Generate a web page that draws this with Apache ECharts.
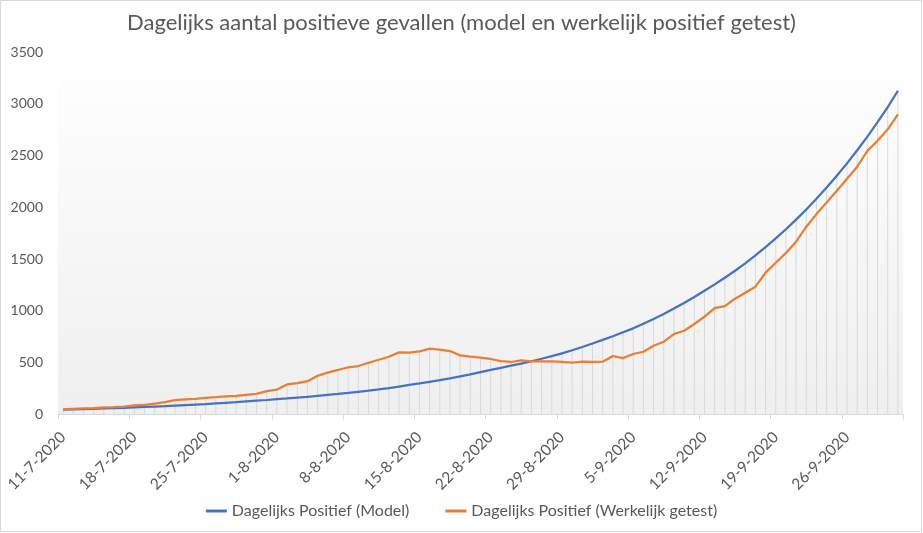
<!DOCTYPE html>
<html>
<head>
<meta charset="utf-8">
<script src="https://cdn.jsdelivr.net/npm/echarts@6/dist/echarts.min.js"></script>
<style>
html,body{margin:0;padding:0;background:#fff;}
#c{width:923px;height:533px;}
</style>
</head>
<body>
<div id="c"></div>
<script>
const categories = [
'11-7-2020','12-7-2020','13-7-2020','14-7-2020','15-7-2020','16-7-2020','17-7-2020',
'18-7-2020','19-7-2020','20-7-2020','21-7-2020','22-7-2020','23-7-2020','24-7-2020',
'25-7-2020','26-7-2020','27-7-2020','28-7-2020','29-7-2020','30-7-2020','31-7-2020',
'1-8-2020','2-8-2020','3-8-2020','4-8-2020','5-8-2020','6-8-2020','7-8-2020',
'8-8-2020','9-8-2020','10-8-2020','11-8-2020','12-8-2020','13-8-2020','14-8-2020',
'15-8-2020','16-8-2020','17-8-2020','18-8-2020','19-8-2020','20-8-2020','21-8-2020',
'22-8-2020','23-8-2020','24-8-2020','25-8-2020','26-8-2020','27-8-2020','28-8-2020',
'29-8-2020','30-8-2020','31-8-2020','1-9-2020','2-9-2020','3-9-2020','4-9-2020',
'5-9-2020','6-9-2020','7-9-2020','8-9-2020','9-9-2020','10-9-2020','11-9-2020',
'12-9-2020','13-9-2020','14-9-2020','15-9-2020','16-9-2020','17-9-2020','18-9-2020',
'19-9-2020','20-9-2020','21-9-2020','22-9-2020','23-9-2020','24-9-2020','25-9-2020',
'26-9-2020','27-9-2020','28-9-2020','29-9-2020','30-9-2020','1-10-2020'
];

const modelValues = [
46,49,52,55,58,61,65,69,73,77,
81,86,91,96,101,107,113,119,126,133,
140,148,
155,163,171,180,189,198,208,219,230,242,
255,270,285,300,316,332,349,368,388,409,
430,450,471,492,514,538,563,590,620,652,
685,720,756,794,832,
876,922,971,1023,1077,1134,1195,
1256,1320,1388,1460,1536,1616,1700,
1789,1882,1980,2083,2191,2305,2425,
2551,2683,2822,2968,3126
];

const actualValues = [
50,55,58,61,68,71,77,87,93,106,
119,138,145,151,161,167,174,180,190,200,
225,241,290,303,322,373,405,
430,456,468,500,529,558,600,597,610,635,
626,613,571,558,549,536,516,507,523,513,
513,513,507,500,510,507,510,565,545,
584,606,664,703,777,809,874,944,1028,1047,1118,1176,1234,
1370,1465,1560,1668,1813,1935,2048,2160,2276,2392,2546,2643,2753,2898
];

const yTicks = {min: 0, max: 3500, interval: 500};
const titleText = 'Dagelijks aantal positieve gevallen (model en werkelijk positief getest)';
const seriesNames = ['Dagelijks Positief (Model)', 'Dagelijks Positief (Werkelijk getest)'];

const dropLines = modelValues.map((v, i) => Math.max(v, actualValues[i]));

const FONT = 'Lato, "Noto Sans", sans-serif';
const chart = echarts.init(document.getElementById('c'), null, {renderer: 'canvas'});
chart.setOption({
  animation: false,
  backgroundColor: '#ffffff',
  textStyle: {fontFamily: FONT},
  title: {
    text: titleText,
    left: 'center',
    top: 7,
    textStyle: {fontFamily: FONT, fontSize: 22, fontWeight: 'normal', color: '#595959'}
  },
  graphic: [{
    type: 'rect',
    silent: true,
    shape: {x: 0.5, y: 0.5, width: 921, height: 531},
    style: {fill: 'none', stroke: '#d9d9d9', lineWidth: 1}
  }],
  legend: {
    data: seriesNames,
    bottom: 9,
    left: 'center',
    itemWidth: 21,
    itemHeight: 3,
    itemGap: 36,
    icon: 'rect',
    textStyle: {fontFamily: FONT, fontSize: 16, color: '#595959'}
  },
  grid: {
    left: 58, right: 20, top: 52, bottom: 118.5,
    show: true,
    borderWidth: 0,
    backgroundColor: {
      type: 'linear', x: 0, y: 0, x2: 0, y2: 1,
      colorStops: [{offset: 0, color: '#ffffff'}, {offset: 1, color: '#efefef'}]
    }
  },
  xAxis: {
    type: 'category',
    data: categories,
    boundaryGap: true,
    axisLine: {show: true, lineStyle: {color: '#d9d9d9', width: 1}},
    axisTick: {show: true, interval: 6, length: 5, lineStyle: {color: '#d9d9d9'}},
    axisLabel: {interval: 6, rotate: 45, margin: 20, fontFamily: FONT, fontSize: 15.5, color: '#595959'},
    splitLine: {show: false}
  },
  yAxis: {
    type: 'value',
    min: yTicks.min, max: yTicks.max, interval: yTicks.interval,
    axisLine: {show: false},
    axisTick: {show: false},
    splitLine: {show: false},
    axisLabel: {margin: 15, fontFamily: FONT, fontSize: 14, color: '#595959', formatter: v => String(v)}
  },
  series: [
    {
      name: 'drop',
      type: 'bar',
      data: dropLines,
      barWidth: 1,
      itemStyle: {color: '#d9d9d9'},
      silent: true,
      z: 1
    },
    {
      name: seriesNames[0],
      type: 'line',
      data: modelValues,
      showSymbol: false,
      symbol: 'none',
      lineStyle: {color: '#4472C4', width: 2.25},
      itemStyle: {color: '#4472C4'},
      z: 3
    },
    {
      name: seriesNames[1],
      type: 'line',
      data: actualValues,
      showSymbol: false,
      symbol: 'none',
      lineStyle: {color: '#ED7D31', width: 2.25},
      itemStyle: {color: '#ED7D31'},
      z: 4
    }
  ]
});
</script>
</body>
</html>
